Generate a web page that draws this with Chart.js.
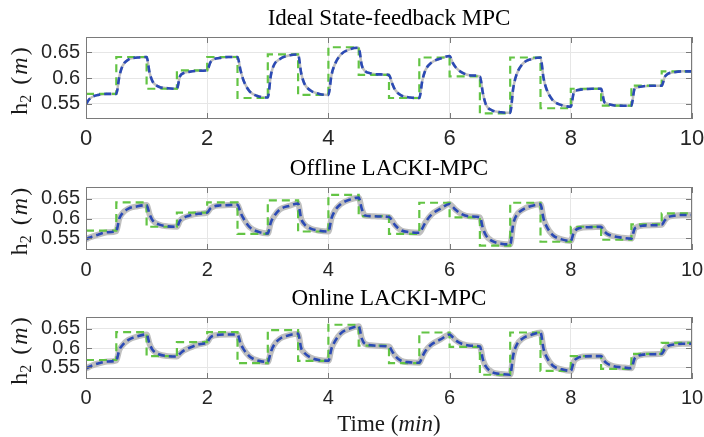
<!DOCTYPE html>
<html>
<head>
<meta charset="utf-8">
<script src="https://cdn.jsdelivr.net/npm/chart.js@4.4.1/dist/chart.umd.min.js"></script>
<style>
  html, body { margin: 0; padding: 0; background: #fff; }
  #wrap { position: relative; width: 704px; height: 437px; overflow: hidden; }
  canvas { position: absolute; left: 0; }
</style>
</head>
<body>
<div id="wrap">
  <canvas id="c1" width="704" height="150" style="top:0"></canvas>
  <canvas id="c2" width="704" height="130" style="top:150px"></canvas>
  <canvas id="c3" width="704" height="157" style="top:280px"></canvas>
</div>
<script>
// reference setpoint (green dashed), value holds from each time until the next
const refTimes = [0, 0.5, 1, 1.5, 2, 2.5, 3, 3.5, 4, 4.5, 5, 5.5, 6, 6.5, 7, 7.5, 8, 8.5, 9, 9.5, 10];
const refLevels = [0.569, 0.641, 0.579, 0.615, 0.641, 0.561, 0.646, 0.567, 0.660, 0.606,
                   0.561, 0.640, 0.603, 0.531, 0.640, 0.541, 0.579, 0.546, 0.585, 0.613, 0.613];

// sample times of the tank level h2
const respTimes = [
  0, 0.05, 0.1, 0.2, 0.35,   0.5, 0.55, 0.6, 0.7, 0.85,
  1, 1.05, 1.1, 1.2, 1.35,   1.5, 1.55, 1.6, 1.7, 1.85,
  2, 2.05, 2.1, 2.2, 2.35,   2.5, 2.55, 2.6, 2.7, 2.85,
  3, 3.05, 3.1, 3.2, 3.35,   3.5, 3.55, 3.6, 3.7, 3.85,
  4, 4.05, 4.1, 4.2, 4.35,   4.5, 4.55, 4.6, 4.7, 4.85,
  5, 5.05, 5.1, 5.2, 5.35,   5.5, 5.55, 5.6, 5.7, 5.85,
  6, 6.05, 6.1, 6.2, 6.35,   6.5, 6.55, 6.6, 6.7, 6.85,
  7, 7.05, 7.1, 7.2, 7.35,   7.5, 7.55, 7.6, 7.7, 7.85,
  8, 8.05, 8.1, 8.2, 8.35,   8.5, 8.55, 8.6, 8.7, 8.85,
  9, 9.05, 9.1, 9.2, 9.35,   9.5, 9.55, 9.6, 9.7, 9.85,
  10
];

const idealH2 = [
  0.549, 0.558, 0.563, 0.567, 0.569,   0.569, 0.603, 0.623, 0.636, 0.640,
  0.641, 0.610, 0.593, 0.583, 0.580,   0.579, 0.603, 0.609, 0.612, 0.614,
  0.615, 0.630, 0.636, 0.639, 0.641,   0.641, 0.615, 0.595, 0.574, 0.564,
  0.562, 0.605, 0.625, 0.637, 0.644,   0.646, 0.610, 0.590, 0.576, 0.569,
  0.567, 0.605, 0.625, 0.645, 0.656,   0.659, 0.625, 0.614, 0.609, 0.607,
  0.606, 0.590, 0.577, 0.566, 0.562,   0.561, 0.595, 0.615, 0.630, 0.638,
  0.643, 0.630, 0.621, 0.611, 0.605,   0.603, 0.570, 0.548, 0.537, 0.533,
  0.532, 0.580, 0.605, 0.627, 0.637,   0.640, 0.600, 0.578, 0.557, 0.547,
  0.544, 0.572, 0.576, 0.578, 0.579,   0.579, 0.554, 0.550, 0.547, 0.546,
  0.546, 0.578, 0.582, 0.584, 0.585,   0.585, 0.602, 0.608, 0.611, 0.613,
  0.613
];

const offlineH2 = [
  0.547, 0.551, 0.554, 0.559, 0.565,   0.568, 0.600, 0.613, 0.625, 0.631,
  0.634, 0.610, 0.595, 0.585, 0.580,   0.579, 0.594, 0.601, 0.607, 0.612,
  0.615, 0.625, 0.630, 0.633, 0.634,   0.635, 0.615, 0.600, 0.578, 0.566,
  0.562, 0.590, 0.605, 0.623, 0.632,   0.638, 0.600, 0.586, 0.575, 0.569,
  0.567, 0.600, 0.618, 0.636, 0.648,   0.653, 0.625, 0.608, 0.606, 0.605,
  0.604, 0.595, 0.583, 0.570, 0.565,   0.564, 0.575, 0.590, 0.610, 0.625,
  0.637, 0.630, 0.622, 0.611, 0.605,   0.603, 0.575, 0.557, 0.543, 0.536,
  0.534, 0.586, 0.607, 0.622, 0.632,   0.636, 0.600, 0.580, 0.558, 0.547,
  0.543, 0.565, 0.573, 0.577, 0.578,   0.579, 0.568, 0.561, 0.555, 0.551,
  0.549, 0.573, 0.579, 0.582, 0.583,   0.584, 0.595, 0.603, 0.607, 0.609,
  0.609
];

const onlineH2 = [
  0.547, 0.551, 0.555, 0.560, 0.565,   0.568, 0.595, 0.607, 0.621, 0.630,
  0.635, 0.610, 0.595, 0.584, 0.579,   0.578, 0.585, 0.592, 0.600, 0.609,
  0.615, 0.627, 0.632, 0.634, 0.635,   0.635, 0.612, 0.597, 0.578, 0.567,
  0.564, 0.590, 0.607, 0.624, 0.633,   0.637, 0.600, 0.588, 0.576, 0.569,
  0.567, 0.598, 0.615, 0.637, 0.650,   0.656, 0.625, 0.611, 0.607, 0.605,
  0.604, 0.592, 0.580, 0.567, 0.563,   0.562, 0.578, 0.592, 0.609, 0.622,
  0.635, 0.628, 0.620, 0.611, 0.606,   0.604, 0.570, 0.552, 0.538, 0.533,
  0.531, 0.581, 0.606, 0.624, 0.634,   0.640, 0.598, 0.577, 0.555, 0.545,
  0.541, 0.565, 0.573, 0.578, 0.579,   0.579, 0.567, 0.560, 0.553, 0.550,
  0.548, 0.572, 0.579, 0.583, 0.584,   0.585, 0.597, 0.605, 0.609, 0.611,
  0.611
];

const xTickValues = [0, 2, 4, 6, 8, 10];
const xTickLabels = ['0', '2', '4', '6', '8', '10'];
const yTickValues = [0.55, 0.6, 0.65];
const yTickLabels = ['0.55', '0.6', '0.65'];

const SERIF = "'Liberation Serif', 'Times New Roman', serif";
const SANS = "'Liberation Sans', Arial, Helvetica, sans-serif";

// draws text made of pieces with different styles, centered on (0,0) baseline
function drawPieces(ctx, pieces) {
  let total = 0;
  pieces.forEach(p => {
    ctx.font = p.font;
    p.w = ctx.measureText(p.text).width + (p.gap || 0);
    total += p.w;
  });
  let x = -total / 2;
  pieces.forEach(p => {
    ctx.font = p.font;
    ctx.fillText(p.text, x, p.dy || 0);
    x += p.w;
  });
}

// MATLAB-like box with inward ticks + axis labels
const axesFrame = {
  id: 'axesFrame',
  afterDatasetsDraw(chart) {
    const { ctx, chartArea: a, scales } = chart;
    const x = scales.x, y = scales.y;
    ctx.save();
    ctx.strokeStyle = '#7a7a7a';
    ctx.lineWidth = 1;
    ctx.strokeRect(a.left + 0.5, a.top + 0.5, a.width - 1, a.height - 1);
    ctx.beginPath();
    x.ticks.forEach(t => {
      const px = Math.round(x.getPixelForValue(t.value)) + 0.5;
      ctx.moveTo(px, a.bottom); ctx.lineTo(px, a.bottom - 6);
      ctx.moveTo(px, a.top); ctx.lineTo(px, a.top + 6);
    });
    y.ticks.forEach(t => {
      const py = Math.round(y.getPixelForValue(t.value)) + 0.5;
      ctx.moveTo(a.left, py); ctx.lineTo(a.left + 6, py);
      ctx.moveTo(a.right, py); ctx.lineTo(a.right - 6, py);
    });
    ctx.stroke();
    ctx.restore();
  },
  afterDraw(chart, args, opts) {
    const { ctx, chartArea: a } = chart;
    ctx.save();
    ctx.fillStyle = '#1a1a1a';
    ctx.textBaseline = 'alphabetic';
    // y label h2 (m)
    ctx.translate(0, (a.top + a.bottom) / 2 + 3);
    ctx.rotate(-Math.PI / 2);
    ctx.translate(0, 27);
    drawPieces(ctx, [
      { text: 'h', font: `24px ${SERIF}` },
      { text: '2', font: `16px ${SERIF}`, dy: 4, gap: 10 },
      { text: '(', font: `24px ${SERIF}`, gap: 2 },
      { text: 'm', font: `italic 24px ${SERIF}`, gap: 2 },
      { text: ')', font: `24px ${SERIF}` }
    ]);
    ctx.restore();
    if (opts.xLabel) {
      ctx.save();
      ctx.fillStyle = '#1a1a1a';
      ctx.textBaseline = 'alphabetic';
      ctx.translate((a.left + a.right) / 2, opts.xLabelY);
      drawPieces(ctx, [
        { text: 'Time (', font: `23px ${SERIF}` },
        { text: 'min', font: `italic 23px ${SERIF}` },
        { text: ')', font: `23px ${SERIF}` }
      ]);
      ctx.restore();
    }
  }
};

function makePanel(id, title, h2, cfg) {
  const ctx = document.getElementById(id).getContext('2d');
  return new Chart(ctx, {
    type: 'line',
    data: {
      datasets: [
        {
          label: 'h2',
          data: respTimes.map((t, i) => ({ x: t, y: h2[i] })),
          borderColor: '#2b4ab5',
          borderWidth: 2.6,
          borderDash: [7, 4],
          cubicInterpolationMode: 'monotone',
          pointRadius: 0,
          fill: false
        },
        {
          label: 'reference',
          data: refTimes.map((t, i) => ({ x: t, y: refLevels[i] })),
          borderColor: '#63c444',
          borderWidth: 2.2,
          borderDash: [8, 5],
          stepped: true,
          pointRadius: 0,
          fill: false
        },
        {
          label: 'spread',
          data: respTimes.map((t, i) => ({ x: t, y: h2[i] })),
          borderColor: '#bfbfbf',
          borderWidth: cfg.band,
          cubicInterpolationMode: 'monotone',
          pointRadius: 0,
          fill: false
        }
      ]
    },
    options: {
      responsive: false,
      animation: false,
      events: [],
      layout: { padding: { left: 0, right: 12, top: 0, bottom: 0 } },
      plugins: {
        legend: { display: false },
        tooltip: { enabled: false },
        title: {
          display: true,
          text: title,
          fullSize: false,
          color: '#000',
          font: { family: SERIF, size: 23, weight: 'normal', lineHeight: 1.2 },
          padding: { top: 5, bottom: 4.4 }
        },
        axesFrame: { xLabel: cfg.xLabel, xLabelY: cfg.xLabelY }
      },
      scales: {
        x: {
          type: 'linear',
          min: 0,
          max: 10,
          afterBuildTicks: s => { s.ticks = xTickValues.map(v => ({ value: v })); },
          afterFit: s => { s.height = cfg.xAxisH; s.paddingLeft = 0; s.paddingRight = 0; },
          ticks: {
            callback: (v, i) => xTickLabels[i],
            color: '#262626',
            font: { family: SANS, size: cfg.xFont },
            padding: cfg.xPad,
            maxRotation: 0
          },
          grid: { color: '#e6e6e6', drawTicks: false, lineWidth: 1 },
          border: { display: false }
        },
        y: {
          min: 0.52,
          max: 0.68,
          afterBuildTicks: s => { s.ticks = yTickValues.map(v => ({ value: v })); },
          afterFit: s => { s.width = 86; s.paddingTop = 0; s.paddingBottom = 0; },
          ticks: {
            callback: (v, i) => yTickLabels[i],
            color: '#262626',
            font: { family: SANS, size: 20 },
            padding: 6
          },
          grid: { color: '#e6e6e6', drawTicks: false, lineWidth: 1 },
          border: { display: false }
        }
      }
    },
    plugins: [axesFrame]
  });
}

makePanel('c1', 'Ideal State-feedback MPC', idealH2, { band: 2.5, xAxisH: 31, xFont: 22, xPad: 7 });
makePanel('c2', 'Offline LACKI-MPC', offlineH2, { band: 6, xAxisH: 30, xFont: 20, xPad: 8 });
makePanel('c3', 'Online LACKI-MPC', onlineH2, { band: 6, xAxisH: 58, xFont: 20, xPad: 7, xLabel: true, xLabelY: 151 });
</script>
</body>
</html>
